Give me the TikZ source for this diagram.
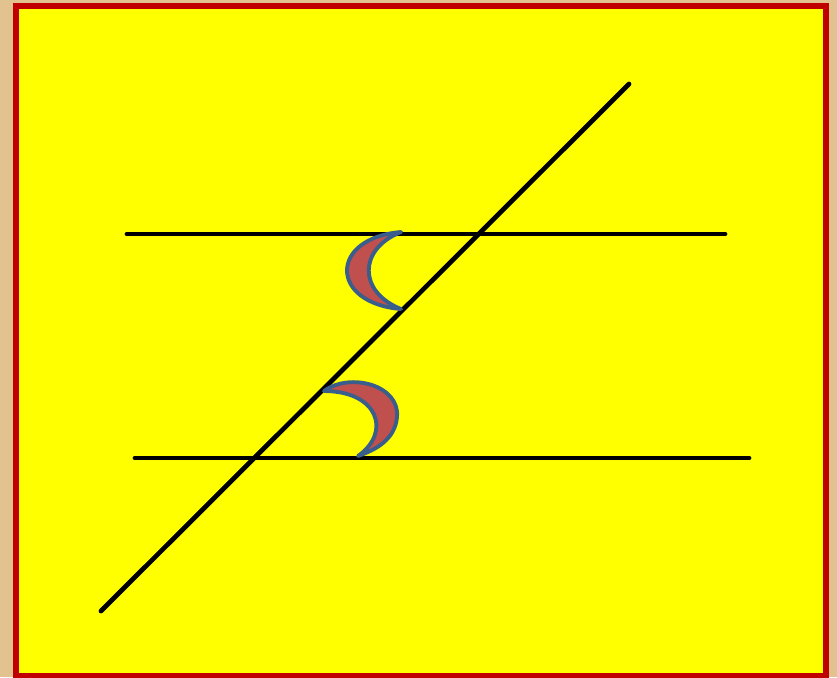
\documentclass[tikz,border=0pt]{standalone}
\usepackage{tikz}
\usepackage{xcolor}
\usetikzlibrary{calc}
\definecolor{sand}    {HTML}{E2C28E}
\definecolor{frame}   {HTML}{C00000}
\definecolor{sheet}   {HTML}{FFFF00}
\definecolor{ink}     {HTML}{000000}
\definecolor{moonfill}{HTML}{C0504D}
\definecolor{moonedge}{HTML}{3A5E8C}
\tikzset{
  frameline/.style ={draw=frame, fill=sheet, line width=3.4pt},
  geoline/.style   ={draw=ink, line width=2.7pt, line cap=round},
  moon/.style      ={draw=moonedge, fill=moonfill, line width=2.2pt, line join=round},
}
\begin{document}
\begin{tikzpicture}[x=0.02cm,y=-0.02cm]
        \fill[sand] (0,0) rectangle (837,677);
        \useasboundingbox (0,0) rectangle (837,677);

        % frame
        \draw[frameline] (16,6) rectangle (826,676);

        % parallel lines and transversal
        \coordinate (ta) at (127,234);
        \coordinate (tb) at (725,234);
        \coordinate (ba) at (135,458);
        \coordinate (bb) at (749,458);
        \coordinate (da) at (101,611);
        \coordinate (db) at (629,84);
        \draw[geoline] (ta) -- (tb);
        \draw[geoline] (ba) -- (bb);
        \draw[geoline] (da) -- (db);

        % upper angle mark
        \coordinate (ua) at (401,232);
        \coordinate (ub) at (401,309);
        \draw[moon] (ua) .. controls (329,238) and (329,303) .. (ub)
                         .. controls (358,292) and (358,249) .. (ua) -- cycle;

        % lower angle mark
        \coordinate (la) at (324,391);
        \coordinate (lb) at (358,456);
        \draw[moon] (la) .. controls (350,372) and (400,385) .. (397,417)
                         .. controls (395,440) and (375,450) .. (lb)
                         .. controls (392,432) and (378,391) .. (la) -- cycle;
\end{tikzpicture}
\end{document}
